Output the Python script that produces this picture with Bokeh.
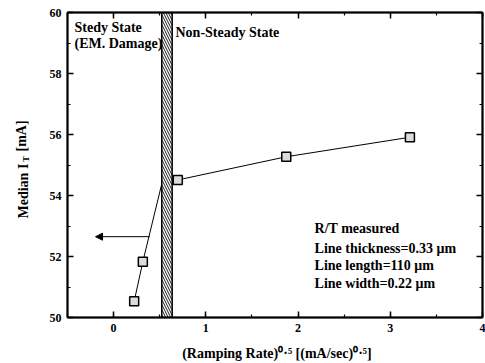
import math
from bokeh.plotting import figure
from bokeh.models import (Range1d, LinearAxis, SingleIntervalTicker, Label, Arrow,
                          NormalHead, CustomJSTickFormatter)
from bokeh.embed import file_html
from bokeh.resources import INLINE

# ---- data ----
rate = [0.223, 0.317, 0.696, 1.872, 3.213]
median_it = [50.53, 51.83, 54.51, 55.27, 55.91]
# trace (line) passes through a vertex hidden behind the transition band
trace_x = [0.223, 0.317, 0.53, 0.696, 1.872, 3.213]
trace_y = [50.53, 51.83, 54.48, 54.51, 55.27, 55.91]
band_left, band_right = [0.522], [0.635]
arrow_from, arrow_to, arrow_y = 0.39, -0.196, 52.65

FONT = "Liberation Serif"

W, H = 485, 363
p = figure(width=W, height=H, output_backend="svg", toolbar_location=None,
           x_range=Range1d(-0.5, 4.0), y_range=Range1d(50, 60),
           min_border_left=67, min_border_right=3, min_border_top=12, min_border_bottom=46,
           x_axis_type=None, y_axis_type=None)
p.background_fill_color = "white"
p.border_fill_color = "white"
p.outline_line_color = "black"
p.outline_line_width = 1.5
p.xgrid.visible = False
p.ygrid.visible = False

def make_axis(interval, labels=True):
    ax = LinearAxis(ticker=SingleIntervalTicker(interval=interval, num_minor_ticks=2))
    ax.axis_line_width = 2
    ax.major_tick_in = 6
    ax.major_tick_out = 0
    ax.minor_tick_in = 3
    ax.minor_tick_out = 0
    ax.major_tick_line_width = 1.5
    ax.minor_tick_line_width = 1.2
    ax.major_label_text_font = FONT
    ax.major_label_text_font_style = "bold"
    ax.major_label_text_font_size = "12px"
    ax.major_label_text_color = "black"
    if labels:
        ax.major_label_standoff = 6
    else:
        ax.formatter = CustomJSTickFormatter(code="return ''")
        ax.major_label_standoff = 0
    return ax

p.add_layout(make_axis(1), "below")
p.add_layout(make_axis(2), "left")
p.add_layout(make_axis(1, labels=False), "above")
p.add_layout(make_axis(2, labels=False), "right")

# connecting line
p.line(trace_x, trace_y, line_color="black", line_width=1)

# hatched transition band
p.quad(left=band_left, right=band_right, bottom=[50], top=[60],
       fill_color="white", line_color="black", line_width=1.5,
       hatch_pattern="\\", hatch_scale=5, hatch_weight=0.9, hatch_color="black")

# markers
p.scatter(rate, median_it, marker="square", size=9, fill_color="#dcdcdc",
          line_color="black", line_width=1.5)

# arrow
p.add_layout(Arrow(x_start=arrow_from, y_start=arrow_y, x_end=arrow_to, y_end=arrow_y,
                   line_width=1, line_color="black",
                   end=NormalHead(size=7, fill_color="black", line_color="black")))

def dlabel(x, y, text, size="14px"):
    p.add_layout(Label(x=x, y=y, text=text, text_font=FONT, text_font_style="bold",
                       text_font_size=size, text_color="black",
                       text_baseline="alphabetic", text_align="left"))

dlabel(-0.424, 59.51, "Stedy State")
dlabel(-0.424, 58.99, "(EM. Damage)")
dlabel(0.671, 59.35, "Non-Steady State")
info = ["R/T measured", "Line thickness=0.33 \u03bcm", "Line length=110 \u03bcm", "Line width=0.22 \u03bcm"]
info_y = [52.92, 52.27, 51.70, 51.12]
for t, yy in zip(info, info_y):
    dlabel(2.179, yy, t)

# x title (single label in the bottom panel, unicode superscripts)
BX0, BY0 = 67, 353
p.add_layout(Label(x=181.7 - BX0, y=BY0 - 356.5, x_units="screen", y_units="screen",
                   text="(Ramping Rate)\u2070\u00b7\u2075 [(mA/sec)\u2070\u00b7\u2075]",
                   text_font=FONT, text_font_style="bold", text_font_size="14px",
                   text_color="black", text_baseline="alphabetic", text_align="left"),
             "below")

# y title: Median I_T [mA] (rotated pieces, each in its own left panel)
LY0 = 317
rot = math.pi / 2
def llabel(px, cy, text, size):
    p.add_layout(Label(x=px, y=LY0 - cy, x_units="screen", y_units="screen",
                       text=text, text_font=FONT, text_font_style="bold",
                       text_font_size=size, text_color="black", angle=rot,
                       text_baseline="alphabetic", text_align="left"), "left")

llabel(29.5 - 23 - 15.0, 218.0, "Median I", "14px")
llabel(36.5 - 23 - 9.5, 161.5, "T", "9px")
llabel(29.5 - 23 + 8.5, 151.0, "[mA]", "14px")

open("out.html", "w").write(file_html(p, INLINE))
